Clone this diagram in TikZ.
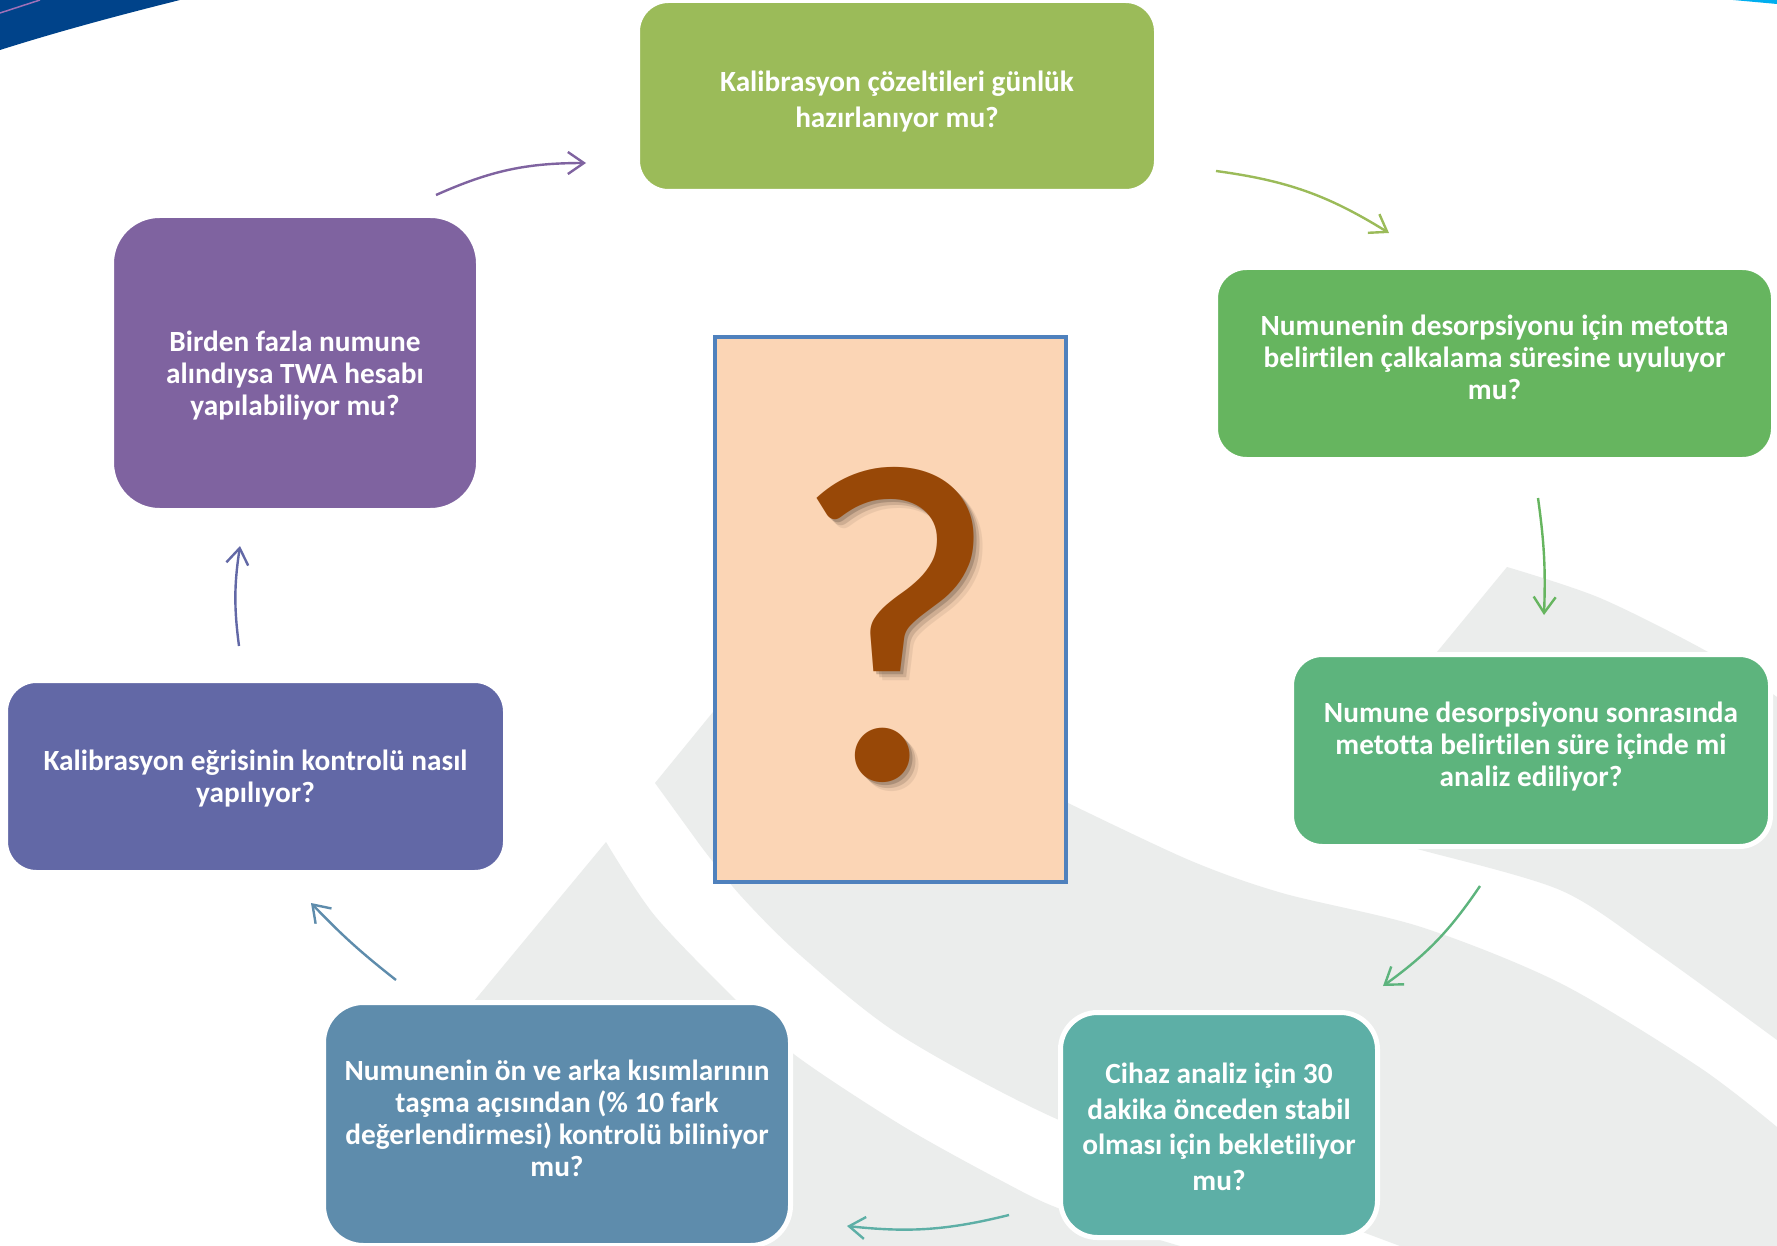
\documentclass[tikz,border=0pt]{standalone}
\usepackage{fontspec}
\setmainfont{Carlito}[Ligatures={NoCommon}]
\usetikzlibrary{arrows.meta}
\definecolor{calgreen}{HTML}{9BBB59}
\definecolor{shakegreen}{HTML}{66B55F}
\definecolor{elutegreen}{HTML}{5DB47D}
\definecolor{warmteal}{HTML}{5DAFA6}
\definecolor{flowblue}{HTML}{5E8CAC}
\definecolor{curveindigo}{HTML}{6268A6}
\definecolor{twapurple}{HTML}{7F63A0}
\definecolor{peach}{HTML}{FBD5B5}
\definecolor{frameblue}{HTML}{4F81BD}
\definecolor{qbrown}{HTML}{984807}
\definecolor{qshade}{HTML}{5C4A3C}
\definecolor{wmgrey}{HTML}{EBEDEC}
\definecolor{cornerblue}{HTML}{00438A}
\definecolor{cornercyan}{HTML}{00AEEF}
\definecolor{cornerpink}{HTML}{A070B8}
\tikzset{
  loopflow/.style={-{Straight Barb[length=16pt,width=22pt]},line width=2.4pt},
  qbox/.style={draw=white,line width=5pt,rounded corners=31pt,inner sep=0pt},
  qtext/.style={align=center,inner sep=0pt,text=white,font=\fontsize{29.3}{32}\selectfont\bfseries},
  widelines/.style={font=\fontsize{29.3}{35.5}\selectfont\bfseries},
  qmark/.style={inner sep=0pt,font=\fontsize{457}{457}\selectfont},
  wm/.style={fill=wmgrey}
}

\begin{document}
\begin{tikzpicture}[x=1pt,y=-1pt]
  \fill[white] (0,0) rectangle (1777,1246);
  \useasboundingbox (0,0) rectangle (1777,1246);
  % watermark swooshes
  \fill[wm] plot[smooth] coordinates {(1507,567) (1600,598) (1708,652) (1777,697)} -- (1777,1040)
    -- plot[smooth] coordinates {(1777,1040) (1653,950) (1560,890) (1421,850) (1390,842)}
    -- (1380,760) -- (1437,652) -- cycle;
  \fill[wm] (655,783) -- (713,712) .. controls (850,720) and (980,760) .. (1066,802)
    -- plot[smooth] coordinates {(1066,802) (1189,860) (1282,893) (1421,927) (1560,983) (1699,1067) (1777,1127)}
    -- (1777,1246) -- (1400,1246)
    -- plot[smooth] coordinates {(1400,1246) (1250,1190) (1059,1120) (900,1035) (800,955) (740,895) (700,845)} -- cycle;
  \fill[wm] (606,842) -- plot[smooth] coordinates {(606,842) (655,916) (736,1000) (795,1055) (901,1125) (1000,1180) (1063,1210) (1180,1246)}
    -- (420,1246) -- (475,1000) -- cycle;
  % corner strokes
  \fill[cornerblue] (0,0) -- (180,0) .. controls (120,15) and (60,31) .. (0,50) -- cycle;
  \draw[cornerpink,line width=1.5pt] (0,13) -- (40,0);
  \fill[cornercyan] (1733,0) -- (1777,0) -- (1777,4) -- cycle;

  % centre card
  \node[draw=frameblue,line width=4.5pt,fill=peach,minimum width=351,minimum height=545,inner sep=0pt] (card) at (890.5,609.5) {};
  \foreach \d/\o in {3/.3,6/.2,9/.1}
    \node[qmark,text=qshade,opacity=\o] at (895+\d,625+\d) {?};
  \node[qmark,text=qbrown] (ask) at (895,625) {?};

  % question boxes
  \node[qbox,fill=calgreen,minimum width=519,minimum height=191] (cal) at (897,96) {};
  \node[qbox,fill=shakegreen,minimum width=558,minimum height=192] (shake) at (1494.5,363.5) {};
  \node[qbox,fill=elutegreen,minimum width=479,minimum height=192] (elute) at (1531,750.5) {};
  \node[qbox,fill=warmteal,minimum width=317,minimum height=225,rounded corners=37pt] (warm) at (1219,1125) {};
  \node[qbox,fill=flowblue,minimum width=467,minimum height=243,rounded corners=40pt] (overflow) at (557,1124) {};
  \node[qbox,fill=curveindigo,minimum width=500,minimum height=192] (curve) at (255.5,776.5) {};
  \node[qbox,fill=twapurple,minimum width=367,minimum height=295,rounded corners=48pt] (twa) at (295,363) {};

  \node[qtext,widelines] (cal-q) at (897,101.5) {Kalibrasyon çözeltileri günlük\\hazırlanıyor mu?};
  \node[qtext] (shake-q) at (1494.5,357.5) {Numunenin desorpsiyonu için metotta\\belirtilen çalkalama süresine uyuluyor\\mu?};
  \node[qtext] (elute-q) at (1531,747) {Numune desorpsiyonu sonrasında\\metotta belirtilen süre içinde mi\\analiz ediliyor?};
  \node[qtext,widelines] (warm-q) at (1219,1127) {Cihaz analiz için 30\\dakika önceden stabil\\olması için bekletiliyor\\mu?};
  \node[qtext] (overflow-q) at (557,1118) {Numunenin ön ve arka kısımlarının\\taşma açısından (\% 10 fark\\değerlendirmesi) kontrolü biliniyor\\mu?};
  \node[qtext] (curve-q) at (255.5,779) {Kalibrasyon eğrisinin kontrolü nasıl\\yapılıyor?};
  \node[qtext] (twa-q) at (295,375.5) {Birden fazla numune\\alındıysa TWA hesabı\\yapılabiliyor mu?};

  % arrow ends
  \coordinate (twa-a) at (436,195);   \coordinate (cal-b) at (586,163);
  \coordinate (cal-a) at (1216,171);  \coordinate (shake-b) at (1389,233);
  \coordinate (shake-a) at (1538,498); \coordinate (elute-b) at (1544,615);
  \coordinate (elute-a) at (1480,886); \coordinate (warm-b) at (1383,986);
  \coordinate (warm-a) at (1009,1215); \coordinate (overflow-b) at (847,1226);
  \coordinate (overflow-a) at (396,980); \coordinate (curve-b) at (311,903);
  \coordinate (curve-a) at (239,646); \coordinate (twa-b) at (240,546);
  \draw[loopflow,twapurple] (twa-a) to[bend left=12] (cal-b);
  \draw[loopflow,calgreen] (cal-a) to[bend left=12] (shake-b);
  \draw[loopflow,shakegreen] (shake-a) to[bend left=5] (elute-b);
  \draw[loopflow,elutegreen] (elute-a) to[bend left=10] (warm-b);
  \draw[loopflow,warmteal] (warm-a) to[bend left=10] (overflow-b);
  \draw[loopflow,flowblue] (overflow-a) to[bend left=4] (curve-b);
  \draw[loopflow,curveindigo] (curve-a) to[bend left=8] (twa-b);
\end{tikzpicture}
\end{document}
